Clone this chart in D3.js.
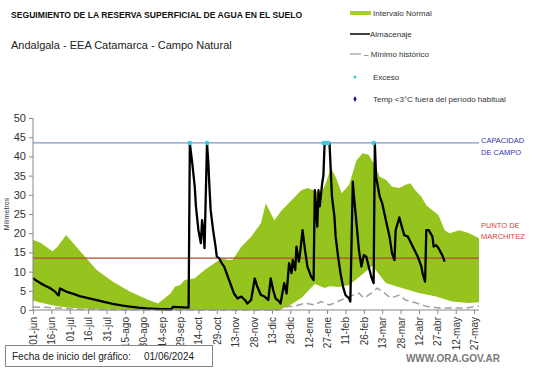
<!DOCTYPE html>
<html>
<head>
<meta charset="utf-8">
<script src="https://cdn.jsdelivr.net/npm/d3@7"></script>
<style>
  body { margin: 0; background: #fff; }
  svg text { font-family: Arial, "Liberation Sans", sans-serif; }
</style>
</head>
<body>
<div id="chart"></div>
<script>
// days counted from 01/06/2024
var tickDays = [0,15,30,45,60,75,90,105,120,135,150,165,180,195,210,225,240,255,270,285,300,315,330,345,360];
var tickLabels = ["01-jun","16-jun","01-jul","16-jul","31-jul","15-ago","30-ago","14-sep","29-sep","14-oct",
  "29-oct","13-nov","28-nov","13-dic","28-dic","12-ene","27-ene","11-feb","26-feb","13-mar","28-mar",
  "12-abr","27-abr","12-may","27-may"];

// intervalo normal: upper edge
var upperDays = [0,6,16,20,27,38,52,65,79,93,102,112,116,120,124,132,140,148,154,159,163,170,178,186,190,194,197,203,211,219,224,232,235,239,243,247,252,258,264,269,274,278,283,288,293,299,304,308,312,317,321,326,331,336,340,348,356,364];
var upperVals = [18.3,17.5,15.3,16.5,19.5,15.5,10.4,7.4,4.8,2.8,1.7,4.2,6.1,6.5,7.8,8.3,10.4,12.2,13.5,13.0,13.1,16.5,19.1,22.6,27.8,25.2,23.4,26,28.6,31.2,31.8,30.8,30.2,33,37,34.7,30.4,32.6,39,40.8,40.4,38.2,34.7,33.9,32.1,31.8,32.6,33,31.2,29.5,27.3,26,24.7,20.8,20,20.8,20,18.7];

// intervalo normal: lower edge
var lowerDays = [0,5,12,20,30,45,60,80,200,208,219,230,238,242,250,258,266,277,288,301,315,329,342,356,364];
var lowerVals = [2.5,2.0,1.5,1.0,0.6,0.3,0.1,0,0,0.9,3.1,6.8,5.7,6.2,6.0,6.5,8.5,11.5,7,5.7,4.4,3.5,2.2,1.8,2.0];

// minimo historico
var minDays = [0,10,20,30,45,60,100,200,208,213,222,230,235,242,250,258,266,270,276,281,287,292,299,304,313,321,331,342,353,361,364];
var minVals = [0.8,0.7,0.5,0.3,0.2,0.1,0,0,0.9,0.9,1.8,1.3,2.2,1.3,2.4,3.5,4.4,3.1,4.4,5.7,4.4,3.1,3.9,2.6,1.8,1.0,0.5,0.5,0.5,0.9,1.0];

// almacenaje
var almDays = [0,3,6,10,14,18,20,21,22,24,27,33,38,45,52,58,65,72,79,86,93,100,106,113,114,127,128,130,132,133,135,137,138,139,140,142,143,144,145,147,149,150,152,154,156,159,162,164,167,170,173,175,178,181,183,186,189,192,194,196,198,201,202,205,207,209,211,212,214,215,217,218,220,222,224,227,229,230,232,233,234,236,237,238,239,240,241,242,243,244,246,247,249,251,253,255,258,259,261,262,264,266,268,270,272,274,276,278,279,280,283,285,288,291,293,295,296,299,301,303,306,310,314,317,318,320,321,323,326,327,329,331,334,336];
var almVals = [8.3,7.6,7.0,6.3,5.7,4.8,4.0,3.8,5.6,5.3,4.8,4.2,3.6,3.1,2.6,2.1,1.6,1.2,0.9,0.6,0.4,0.3,0.2,0.2,0.8,0.6,43.4,38.2,32.1,26.9,20.8,17.4,23.4,20.8,16.1,43.4,39,32,26,20.8,16.5,13.9,13.5,12.2,11.3,8.7,6.1,4.3,3.0,3.5,2.6,1.7,2.6,8.2,6.1,3.9,3.5,2.6,8.2,5.2,3.0,2.2,1.7,7.0,4.3,12.2,9.6,13,10.4,16.5,12.6,14.8,20.8,15.6,11.3,8.7,7.8,31.2,21.7,31.2,27,33,35,43.4,43.4,43.4,43.4,43.4,36.5,29.5,24.3,19.1,13.9,9.5,6.1,3.9,3.0,2.2,33.4,29.5,22.6,15.6,11.3,14.3,13.9,11.3,8.7,7.0,43.4,34.7,29.5,27.8,23.4,19.1,14.8,13.0,20.8,24.1,21.7,19.5,19.1,16.5,13.9,11.3,9.5,7.4,20.8,20.8,19.1,16.5,16.9,16.1,14.3,12.6,11.7];

// exceso markers
var excesoDays = [128,142,237,239,241,278];

var capacidadCampo = 43.5;
var puntoMarchitez = 13.5;

function init()
{
    var w = 541, h = 368;
    var left = 33, right = 479, top = 118, bottom = 310;

    var svg = d3.select("#chart").append("svg")
        .attr("width", w).attr("height", h);

    var x = d3.scaleLinear().domain([0, 364]).range([left, right]);
    var y = d3.scaleLinear().domain([0, 50]).range([bottom, top]);

    function pairs(days, vals) {
        return days.map(function(d, i) { return [d, vals[i]]; });
    }

    var green = "#96c41e";

    // band: green to upper edge, white to lower edge
    var area = d3.area()
        .x(function(d) { return x(d[0]); })
        .y0(y(0))
        .y1(function(d) { return y(d[1]); });

    svg.append("path").datum(pairs(upperDays, upperVals))
        .attr("d", area).attr("fill", green);
    svg.append("path").datum(pairs(lowerDays, lowerVals))
        .attr("d", area).attr("fill", "#ffffff");

    // reference lines
    svg.append("line")
        .attr("x1", left).attr("x2", right)
        .attr("y1", y(capacidadCampo)).attr("y2", y(capacidadCampo))
        .attr("stroke", "#7f97c4").attr("stroke-width", 1.2);
    svg.append("line")
        .attr("x1", left).attr("x2", right)
        .attr("y1", y(puntoMarchitez)).attr("y2", y(puntoMarchitez))
        .attr("stroke", "#b24a32").attr("stroke-width", 1.2);

    var line = d3.line()
        .x(function(d) { return x(d[0]); })
        .y(function(d) { return y(d[1]); });

    svg.append("path").datum(pairs(minDays, minVals))
        .attr("d", line).attr("fill", "none")
        .attr("stroke", "#a0a0a0").attr("stroke-width", 1.5)
        .attr("stroke-dasharray", "7,4");

    svg.append("path").datum(pairs(almDays, almVals))
        .attr("d", line).attr("fill", "none")
        .attr("stroke", "#000").attr("stroke-width", 2.3)
        .attr("stroke-linejoin", "round");

    svg.selectAll(".exceso").data(excesoDays).enter()
        .append("circle")
        .attr("cx", function(d) { return x(d); })
        .attr("cy", y(capacidadCampo))
        .attr("r", 2.2)
        .attr("fill", "#3cc8e0");

    // axes
    var yAxis = svg.append("g")
        .attr("transform", "translate(" + left + ",0)")
        .call(d3.axisLeft(y).tickValues(d3.range(0, 51, 5)).tickSize(4).tickPadding(3));
    yAxis.selectAll("text").style("font-size", "11px").attr("fill", "#333");

    var xAxis = svg.append("g")
        .attr("transform", "translate(0," + bottom + ")")
        .call(d3.axisBottom(x).tickValues(tickDays).tickSize(4)
            .tickFormat(function(d, i) { return tickLabels[i]; }));
    xAxis.selectAll("text")
        .style("font-size", "10px").attr("fill", "#333")
        .attr("x", -7).attr("y", 0).attr("dy", "0.35em")
        .attr("transform", "rotate(-90)")
        .style("text-anchor", "end");

    svg.selectAll(".domain, .tick line").attr("stroke", "#888");
    yAxis.select(".domain").attr("d", "M0," + bottom + "V" + top);
    xAxis.select(".domain").attr("d", "M" + left + ",0H" + right);

    svg.append("text")
        .attr("transform", "translate(9," + ((top + bottom) / 2) + ") rotate(-90)")
        .attr("text-anchor", "middle")
        .style("font-size", "7px").attr("fill", "#333")
        .text("Milímetros");

    // right side labels
    var rl = [["CAPACIDAD", 143, "#3333aa"], ["DE  CAMPO", 155, "#3333aa"],
              ["PUNTO  DE", 228, "#d43c3c"], ["MARCHITEZ", 239, "#d43c3c"]];
    rl.forEach(function(r) {
        svg.append("text").attr("x", 481).attr("y", r[1])
            .style("font-size", "7.5px").attr("fill", r[2]).text(r[0]);
    });

    // titles
    svg.append("text").attr("x", 11).attr("y", 18)
        .style("font-size", "8.6px").style("font-weight", "bold").attr("fill", "#111")
        .text("SEGUIMIENTO DE LA RESERVA  SUPERFICIAL DE AGUA EN EL SUELO");
    svg.append("text").attr("x", 11).attr("y", 49)
        .style("font-size", "11px").attr("fill", "#222")
        .text("Andalgala - EEA Catamarca - Campo Natural");

    // legend
    var lg = svg.append("g").style("font-size", "8px");
    lg.append("rect").attr("x", 350).attr("y", 11).attr("width", 21).attr("height", 4).attr("fill", "#a3cf2f");
    lg.append("text").attr("x", 373).attr("y", 16).attr("fill", "#333").text("Intervalo Normal");
    lg.append("line").attr("x1", 350).attr("x2", 370).attr("y1", 34).attr("y2", 34)
        .attr("stroke", "#000").attr("stroke-width", 1.5);
    lg.append("text").attr("x", 370).attr("y", 37).attr("fill", "#333").text("Almacenaje");
    lg.append("line").attr("x1", 350).attr("x2", 361).attr("y1", 54).attr("y2", 54)
        .attr("stroke", "#999").attr("stroke-width", 1.2);
    lg.append("text").attr("x", 364).attr("y", 57).attr("fill", "#333").text("– Mínimo histórico");
    lg.append("circle").attr("cx", 355).attr("cy", 77).attr("r", 1.5).attr("fill", "#3cc8e0");
    lg.append("text").attr("x", 373).attr("y", 80).attr("fill", "#333").text("Exceso");
    lg.append("path").attr("d", d3.symbol().type(d3.symbolDiamond).size(10)())
        .attr("transform", "translate(355,99)").attr("fill", "#1a1aa0");
    lg.append("text").attr("x", 373).attr("y", 102).attr("fill", "#333")
        .text("Temp <3°C fuera del período habitual");

    // footer
    svg.append("rect").attr("x", 5.5).attr("y", 345.5).attr("width", 207).attr("height", 21)
        .attr("fill", "#fff").attr("stroke", "#8c7f7f");
    svg.append("text").attr("x", 12).attr("y", 360)
        .style("font-size", "10px").attr("fill", "#222").text("Fecha de inicio del gráfico:");
    svg.append("text").attr("x", 144).attr("y", 360)
        .style("font-size", "10px").attr("fill", "#222").text("01/06/2024");
    svg.append("text").attr("x", 500).attr("y", 362).attr("text-anchor", "end")
        .style("font-size", "10px").style("font-weight", "bold").attr("fill", "#7a7a7a")
        .text("WWW.ORA.GOV.AR");
}
window.onload = init;
</script>
</body>
</html>
